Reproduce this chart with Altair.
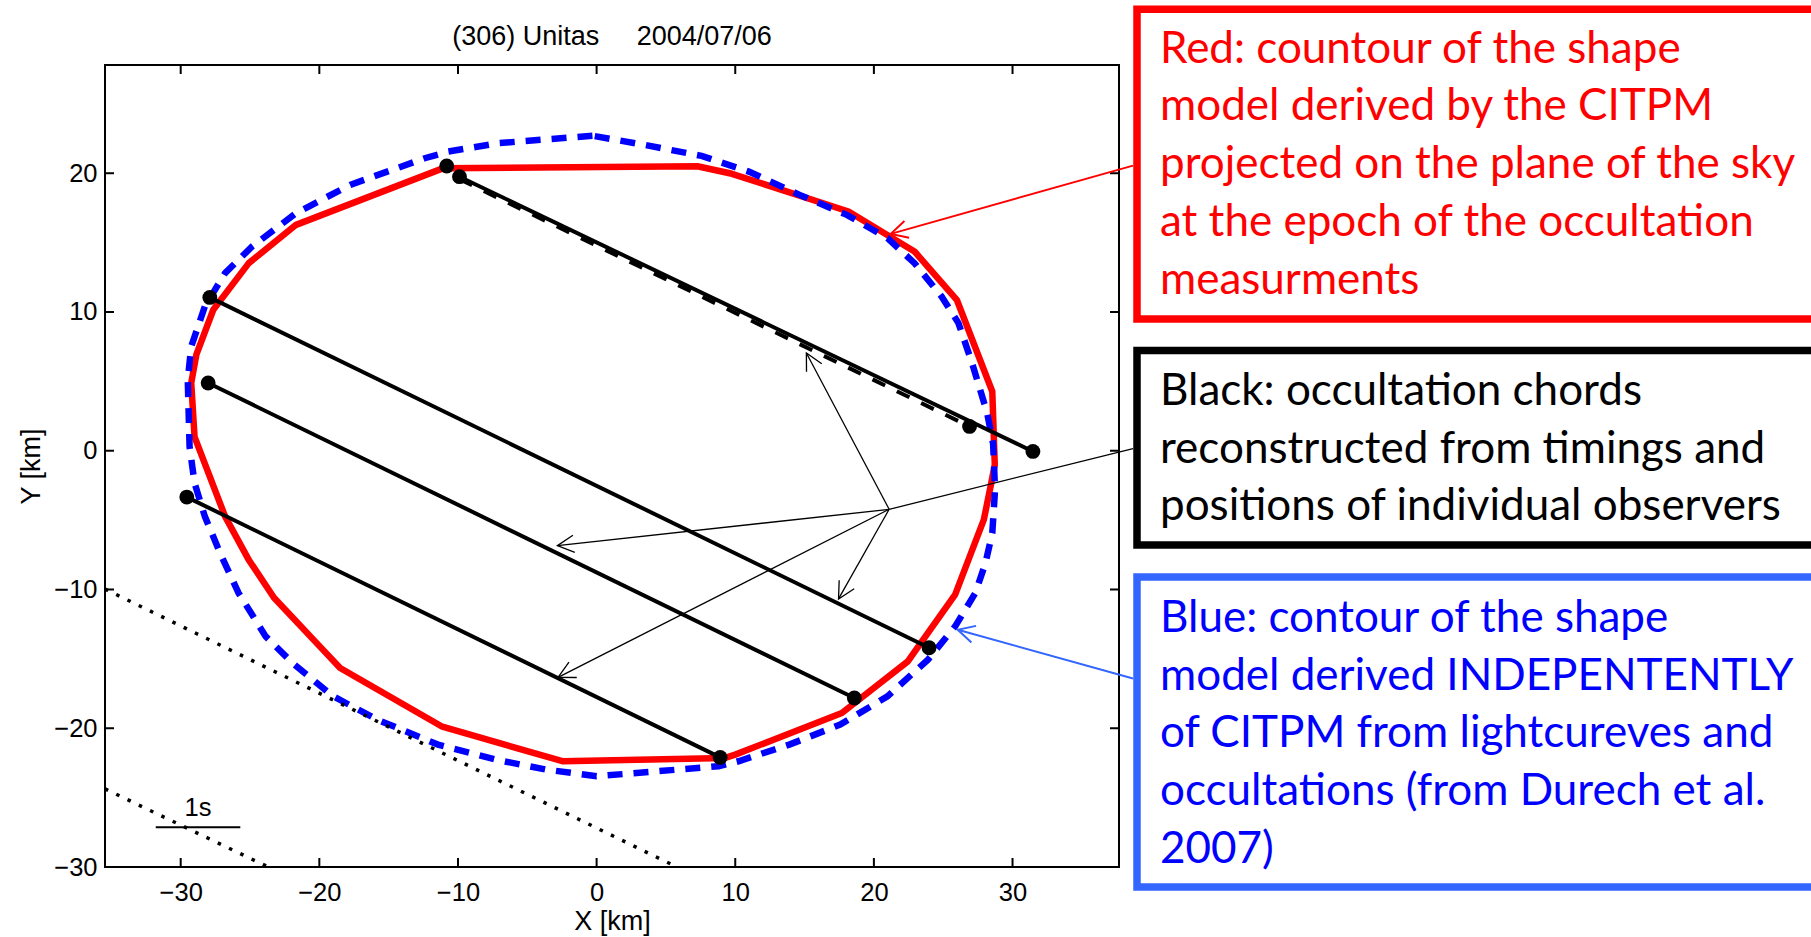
import math
import altair as alt
import pandas as pd

# ---------------- values (km) ----------------
# red: CITPM shape-model contour (closed polygon)
red_x = [-11.1, 7.27, 9.76, 18.17, 22.93, 25.98, 28.54, 28.72, 28.45, 27.93, 25.86, 23.3, 22.45,
         17.69, 10.0, 9.27, -2.41, -4.12, -11.19, -18.5, -19.97, -23.27, -25.1, -26.8, -29.0,
         -29.24, -28.87, -27.65, -25.09, -21.68, -11.1]
red_y = [20.35, 20.5, 19.96, 17.24, 14.36, 10.88, 4.27, -1.0, -2.4, -4.97, -10.37, -13.98, -15.18,
         -18.9, -21.9, -22.14, -22.38, -21.9, -19.86, -15.66, -14.1, -10.6, -7.85, -4.73, 1.0,
         4.88, 6.92, 10.16, 13.52, 16.28, 20.35]

# blue: Durech et al. 2007 contour (closed polygon)
blue_x = [-0.3, -7.05, -10.7, -12.4, -17.78, -21.68, -24.85, -26.8, -28.26, -29.24, -29.49, -29.36,
          -29.0, -28.26, -27.16, -25.83, -23.87, -21.93, -19.0, -15.82, -11.44, -7.29, -3.63, 0.0,
          4.39, 8.79, 10.24, 13.9, 17.57, 20.98, 23.9, 25.86, 27.32, 28.05, 28.54, 28.74, 28.6,
          28.17, 27.08, 26.1, 24.88, 22.93, 20.98, 18.05, 14.64, 10.98, 7.57, 3.42, -0.3]
blue_y = [22.7, 22.17, 21.56, 21.08, 19.16, 17.12, 14.72, 12.8, 10.4, 7.51, 5.1, 0.3,
          -2.33, -4.73, -7.37, -10.25, -13.38, -15.3, -17.7, -19.38, -21.18, -22.26, -22.98, -23.46,
          -23.1, -22.74, -22.38, -21.18, -19.74, -17.7, -15.06, -12.66, -10.25, -8.09, -5.93, -2.81, 0.5,
          2.72, 6.32, 9.2, 11.12, 13.52, 15.32, 17.0, 18.44, 20.12, 21.25, 22.05, 22.7]

# solid occultation chords
chord_x1 = [-9.89, -27.9, -28.02, -29.56]
chord_y1 = [19.75, 11.05, 4.88, -3.34]
chord_x2 = [31.47, 23.98, 18.59, 8.91]
chord_y2 = [-0.05, -14.2, -17.82, -22.1]

# dashed chord
dash_x1 = [-9.89]
dash_y1 = [19.57]
dash_x2 = [26.9]
dash_y2 = [1.75]

# chord end points (timings)
dot_x = [-10.81, -9.89, 31.47, 26.9, -27.9, 23.98, -28.02, 18.59, -29.56, 8.91]
dot_y = [20.52, 19.75, -0.05, 1.75, 11.05, -14.2, 4.88, -17.82, -3.34, -22.1]

# dotted (negative) chords
dotted_x1 = [-35.46, -35.46]
dotted_y1 = [-9.97, -24.37]
dotted_x2 = [5.73, -23.75]
dotted_y2 = [-29.97, -29.97]

# 1 s scale bar
bar_x1 = [-31.8]
bar_x2 = [-25.7]
bar_y = [-27.14]
bar_label = ["1s"]
bar_label_x = [-28.75]
bar_label_y = [-26.35]

x_ticks = [-30, -20, -10, 0, 10, 20, 30]
y_ticks = [-30, -20, -10, 0, 10, 20]

# annotation arrows (start -> tip)
red_arrow = dict(x1=[38.69], y1=[20.55], x2=[21.22], y2=[15.63])
blue_arrow = dict(x1=[38.69], y1=[-16.42], x2=[26.05], y2=[-12.9])
black_trunk = dict(x1=[38.69], y1=[0.16], x2=[21.1], y2=[-4.22])
black_arrows = dict(x1=[21.1, 21.1, 21.1, 21.1], y1=[-4.22, -4.22, -4.22, -4.22],
                    x2=[15.13, 17.45, -2.83, -2.78], y2=[7.04, -10.68, -6.84, -16.33])

title_text = "(306) Unitas" + "\u00a0" * 5 + "2004/07/06"
red_lines = ["Red: countour of the shape", "model derived by the CITPM",
             "projected on the plane of the sky", "at the epoch of the occultation",
             "measurments"]
black_lines = ["Black: occultation chords", "reconstructed from timings and",
               "positions of individual observers"]
blue_lines = ["Blue: contour of the shape", "model derived INDEPENTENTLY",
              "of CITPM from lightcureves and", "occultations (from Durech et al.",
              "2007)"]

# ---------------- layout ----------------
W, H = 1014, 802
XDOM = [-35.46, 37.68]
YDOM = [-30.0, 27.8]
SX = W / (XDOM[1] - XDOM[0])
SY = H / (YDOM[1] - YDOM[0])
xs = alt.Scale(domain=XDOM, nice=False, zero=False)
ys = alt.Scale(domain=YDOM, nice=False, zero=False)
FONT = "Liberation Sans"
BOXFONT = "Lato"
TICKFS = 25.5

xaxis = alt.Axis(values=x_ticks, ticks=False, tickSize=0, domain=False, grid=False, format="d",
                 labelFont=FONT, labelFontSize=TICKFS, labelColor="black", labelPadding=13,
                 labelFlush=False, labelOverlap=False,
                 titleFont=FONT, titleFontSize=27, titleFontWeight="normal", titleColor="black",
                 titleX=W / 2, titleY=54, titleBaseline="middle", titleAlign="center")
yaxis = alt.Axis(values=y_ticks, ticks=False, tickSize=0, domain=False, grid=False, format="d",
                 labelFont=FONT, labelFontSize=TICKFS, labelColor="black", labelPadding=8,
                 labelFlush=False, labelOverlap=False,
                 titleFont=FONT, titleFontSize=27, titleFontWeight="normal", titleColor="black",
                 titleX=-74, titleY=H / 2, titleAngle=270, titleBaseline="middle",
                 titleAlign="center")


def X(field):
    return alt.X(f"{field}:Q", scale=xs, axis=xaxis, title="X [km]")


def Y(field):
    return alt.Y(f"{field}:Q", scale=ys, axis=yaxis, title="Y [km]")


def seg_df(d):
    return pd.DataFrame(d)


def head_df(d):
    df = pd.DataFrame(d)
    df["ang"] = [
        math.degrees(math.atan2(-(b2 - b1) * SY, (a2 - a1) * SX)) % 360
        for a1, b1, a2, b2 in zip(df.x1, df.y1, df.x2, df.y2)
    ]
    return df


red_df = pd.DataFrame({"x": red_x, "y": red_y, "i": range(len(red_x))})
blue_df = pd.DataFrame({"x": blue_x, "y": blue_y, "i": range(len(blue_x))})
chord_df = seg_df(dict(x1=chord_x1, y1=chord_y1, x2=chord_x2, y2=chord_y2))
dash_df = seg_df(dict(x1=dash_x1, y1=dash_y1, x2=dash_x2, y2=dash_y2))
dots_df = pd.DataFrame({"x": dot_x, "y": dot_y})
dotted_df = seg_df(dict(x1=dotted_x1, y1=dotted_y1, x2=dotted_x2, y2=dotted_y2))
bar_df = pd.DataFrame({"x1": bar_x1, "x2": bar_x2, "y": bar_y})
barlab_df = pd.DataFrame({"x": bar_label_x, "y": bar_label_y, "t": bar_label})
xt_df = pd.DataFrame({"v": x_ticks})
yt_df = pd.DataFrame({"v": y_ticks})
one = pd.DataFrame({"a": [0]})

ARROW = "M-1,-0.52L0,0L-1,0.52"

layers = []

layers.append(alt.Chart(red_df).mark_line(color="#FF0000", strokeWidth=6.5, strokeJoin="round")
              .encode(x=X("x"), y=Y("y"), order="i:Q"))
layers.append(alt.Chart(blue_df).mark_line(color="#0000FF", strokeWidth=6.5, strokeDash=[15, 11])
              .encode(x=X("x"), y=Y("y"), order="i:Q"))
layers.append(alt.Chart(chord_df).mark_rule(color="black", strokeWidth=4)
              .encode(x=X("x1"), y=Y("y1"), x2="x2:Q", y2="y2:Q"))
layers.append(alt.Chart(dash_df).mark_rule(color="black", strokeWidth=4, strokeDash=[14, 13])
              .encode(x=X("x1"), y=Y("y1"), x2="x2:Q", y2="y2:Q"))
layers.append(alt.Chart(dots_df).mark_circle(color="black", size=220, opacity=1)
              .encode(x=X("x"), y=Y("y")))
layers.append(alt.Chart(dotted_df).mark_rule(color="black", strokeWidth=3.5, strokeDash=[3.5, 9])
              .encode(x=X("x1"), y=Y("y1"), x2="x2:Q", y2="y2:Q"))
layers.append(alt.Chart(bar_df).mark_rule(color="black", strokeWidth=2)
              .encode(x=X("x1"), x2="x2:Q", y=Y("y")))
layers.append(alt.Chart(barlab_df).mark_text(font=FONT, fontSize=TICKFS, color="black",
                                             align="center", baseline="alphabetic")
              .encode(x=X("x"), y=Y("y"), text="t:N"))

# inward ticks on all four sides
TL = 9
layers.append(alt.Chart(xt_df).mark_rule(color="black", strokeWidth=2)
              .encode(x=X("v"), y=alt.value(H), y2=alt.value(H - TL)))
layers.append(alt.Chart(xt_df).mark_rule(color="black", strokeWidth=2)
              .encode(x=X("v"), y=alt.value(0), y2=alt.value(TL)))
layers.append(alt.Chart(yt_df).mark_rule(color="black", strokeWidth=2)
              .encode(y=Y("v"), x=alt.value(0), x2=alt.value(TL)))
layers.append(alt.Chart(yt_df).mark_rule(color="black", strokeWidth=2)
              .encode(y=Y("v"), x=alt.value(W), x2=alt.value(W - TL)))

# annotation arrows
for d, col, sw, head in [(red_arrow, "#FF0000", 2, True), (blue_arrow, "#3366FF", 2, True),
                         (black_trunk, "black", 1.3, False), (black_arrows, "black", 1.3, True)]:
    df = head_df(d)
    layers.append(alt.Chart(df).mark_rule(color=col, strokeWidth=sw)
                  .encode(x=X("x1"), y=Y("y1"), x2="x2:Q", y2="y2:Q"))
    if head:
        layers.append(alt.Chart(df).mark_point(shape=ARROW, filled=False, color=col, strokeWidth=sw,
                                               size=1100, opacity=1)
                      .encode(x=X("x2"), y=Y("y2"), angle=alt.Angle("ang:Q", scale=None)))

# title as a text mark above the plot (pixel layout relative to plot origin)
layers.append(alt.Chart(one).mark_text(text=title_text, font=FONT, fontSize=27, color="black",
                                       align="center", baseline="alphabetic")
              .encode(x=alt.value(W / 2), y=alt.value(-20)))

# annotation boxes (pixel layout relative to plot origin)
BX1, BX2 = 1032, 1730
for top, bot, col in [(-55.7, 254, "#FF0000"), (285.5, 480, "black"), (512, 822, "#3366FF")]:
    layers.append(alt.Chart(one).mark_rect(fillOpacity=0, stroke=col, strokeWidth=7.5)
                  .encode(x=alt.value(BX1), x2=alt.value(BX2), y=alt.value(top), y2=alt.value(bot)))

TX = 1055
LH = 57.7
for lines, y0, col in [(red_lines, -2.2, "#FF0000"), (black_lines, 340, "black"),
                       (blue_lines, 567, "#0000FF")]:
    layers.append(alt.Chart(one).mark_text(text=lines, font=BOXFONT, fontSize=44, color=col,
                                           align="left", baseline="alphabetic", lineHeight=LH)
                  .encode(x=alt.value(TX), y=alt.value(y0)))

chart = alt.layer(*layers).properties(
    width=W, height=H,
    padding={"left": 105, "top": 65, "right": 1811 - 105 - W, "bottom": 937 - 65 - H},
    autosize=alt.AutoSizeParams(type="none"),
    background="white",
).configure_view(stroke="black", strokeWidth=2)

chart.save("out.html", embed_options={"renderer": "svg", "actions": False})
